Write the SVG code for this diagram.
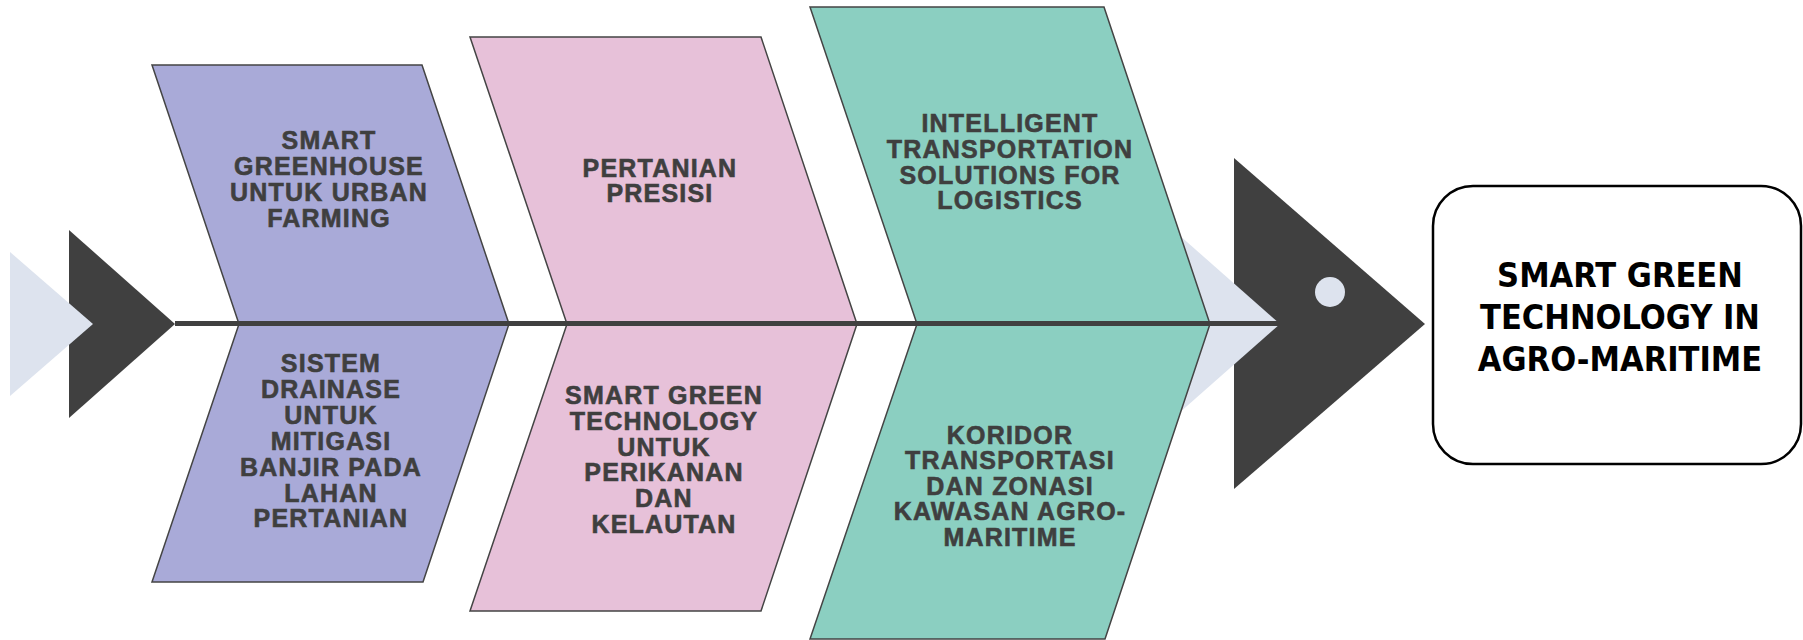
<svg xmlns="http://www.w3.org/2000/svg" width="1803" height="640" viewBox="0 0 1803 640">
<style>
.bt{font-family:"Liberation Sans",Arial,sans-serif;font-weight:bold;font-size:25px;letter-spacing:1.2px;fill:#3f3f3f;stroke:#3f3f3f;stroke-width:0.6px;text-anchor:middle}
.sh{stroke:#444;stroke-width:1.5;stroke-linejoin:miter}
.pu{fill:#A9AAD8}.pk{fill:#E7C1D9}.tl{fill:#8BCFC1}
.dk{fill:#404040}.lt{fill:#DDE3EE}
.ht{font-family:"DejaVu Sans Condensed","DejaVu Sans",sans-serif;font-stretch:condensed;font-weight:bold;font-size:34px;fill:#000;text-anchor:middle}
</style>
<rect width="1803" height="640" fill="#fff"/>
<g id="tail">
<polygon class="dk" points="69,230 175,324 69,418"/>
<polygon class="lt" points="10,252 93,324 10,396"/>
</g>
<g id="head">
<polygon class="dk" points="1234,158 1425,324 1234,489"/>
<polygon class="lt" points="1170,227 1280,324 1170,421"/>
<circle class="lt" cx="1330" cy="292" r="15"/>
</g>
<g id="node-smart-greenhouse">
<polygon class="sh pu" points="152,65 422,65 509,324 239,324"/>
<text class="bt"><tspan x="329" y="149">SMART</tspan><tspan x="329" y="175">GREENHOUSE</tspan><tspan x="329" y="201">UNTUK URBAN</tspan><tspan x="329" y="226.5">FARMING</tspan></text>
</g>
<g id="node-sistem-drainase">
<polygon class="sh pu" points="239,324 509,324 423,582 152,582"/>
<text class="bt"><tspan x="331" y="372">SISTEM</tspan><tspan x="331" y="398">DRAINASE</tspan><tspan x="331" y="424">UNTUK</tspan><tspan x="331" y="449.5">MITIGASI</tspan><tspan x="331" y="475.5">BANJIR PADA</tspan><tspan x="331" y="501.5">LAHAN</tspan><tspan x="331" y="527">PERTANIAN</tspan></text>
</g>
<g id="node-pertanian-presisi">
<polygon class="sh pk" points="470,37 761,37 857,324 567,324"/>
<text class="bt"><tspan x="660" y="176.5">PERTANIAN</tspan><tspan x="660" y="201.5">PRESISI</tspan></text>
</g>
<g id="node-perikanan">
<polygon class="sh pk" points="567,324 857,324 761,611 470,611"/>
<text class="bt"><tspan x="664" y="403.5">SMART GREEN</tspan><tspan x="664" y="429.5">TECHNOLOGY</tspan><tspan x="664" y="455.5">UNTUK</tspan><tspan x="664" y="481">PERIKANAN</tspan><tspan x="664" y="507">DAN</tspan><tspan x="664" y="533">KELAUTAN</tspan></text>
</g>
<g id="node-intelligent-transport">
<polygon class="sh tl" points="810,7 1104,7 1210,324 917,324"/>
<text class="bt"><tspan x="1010" y="131.5">INTELLIGENT</tspan><tspan x="1010" y="157.5">TRANSPORTATION</tspan><tspan x="1010" y="183.5">SOLUTIONS FOR</tspan><tspan x="1010" y="209">LOGISTICS</tspan></text>
</g>
<g id="node-koridor">
<polygon class="sh tl" points="917,324 1210,324 1105,639 810,639"/>
<text class="bt"><tspan x="1010" y="443.5">KORIDOR</tspan><tspan x="1010" y="469">TRANSPORTASI</tspan><tspan x="1010" y="494.5">DAN ZONASI</tspan><tspan x="1010" y="520">KAWASAN AGRO-</tspan><tspan x="1010" y="545.5">MARITIME</tspan></text>
</g>
<g id="connectors">
<line x1="175" y1="323.5" x2="1280" y2="323.5" stroke="#404040" stroke-width="5"/>
</g>
<g id="node-result">
<rect x="1433" y="186" width="368" height="278" rx="40" ry="40" fill="#fff" stroke="#000" stroke-width="2.5"/>
<text class="ht"><tspan x="1620" y="287">SMART GREEN</tspan><tspan x="1620" y="329">TECHNOLOGY IN</tspan><tspan x="1620" y="370.5">AGRO-MARITIME</tspan></text>
</g>
</svg>
